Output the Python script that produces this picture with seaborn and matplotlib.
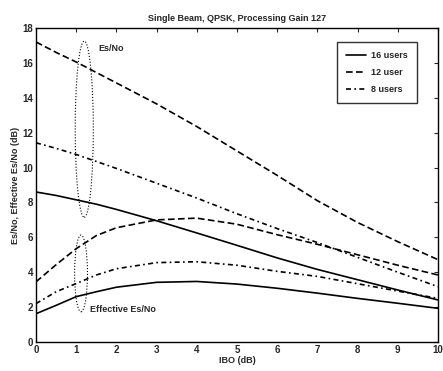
import matplotlib
matplotlib.use("Agg")
import matplotlib.pyplot as plt
import seaborn as sns
from matplotlib.patches import Ellipse

ibo = [0, 0.5, 1, 1.5, 2, 3, 4, 5, 6, 7, 8, 9, 10]
esno_16 = [8.6, 8.4, 8.15, 7.9, 7.6, 6.95, 6.25, 5.54, 4.82, 4.16, 3.57, 2.98, 2.41]
esno_12 = [17.2, 16.6, 16.05, 15.45, 14.85, 13.65, 12.35, 10.95, 9.55, 8.1, 6.85, 5.75, 4.72]
esno_8 = [11.42, 11.1, 10.75, 10.35, 9.95, 9.1, 8.25, 7.35, 6.5, 5.7, 4.85, 4.0, 3.17]
eff_16 = [1.62, 2.1, 2.6, 2.88, 3.14, 3.42, 3.47, 3.32, 3.08, 2.8, 2.5, 2.22, 1.93]
eff_12 = [3.45, 4.43, 5.35, 6.1, 6.55, 7.0, 7.1, 6.75, 6.15, 5.6, 5.0, 4.4, 3.84]
eff_8 = [2.2, 2.88, 3.35, 3.84, 4.2, 4.55, 4.6, 4.4, 4.05, 3.76, 3.34, 2.92, 2.5]
labels = ["16 users", "12 user", "8 users"]
title = "Single Beam, QPSK, Processing Gain 127"

sns.set_style("white")
plt.rcParams['font.family'] = ['Liberation Sans', 'DejaVu Sans']

fig = plt.figure(figsize=(4.43, 3.71), dpi=100)
ax = fig.add_axes([0.0813, 0.0782, 0.9074, 0.8463])

styles = [None, (4, 2), (3, 2, 1, 2)]
series_es = [esno_16, esno_12, esno_8]
series_eff = [eff_16, eff_12, eff_8]
for lab, ys, dash in zip(labels, series_es, styles):
    sns.lineplot(x=ibo, y=ys, ax=ax, color='k', linewidth=1.2, label=lab)
    if dash is not None:
        ax.lines[-1].set_dashes(dash)
for ys, dash in zip(series_eff, styles):
    sns.lineplot(x=ibo, y=ys, ax=ax, color='k', linewidth=1.2)
    if dash is not None:
        ax.lines[-1].set_dashes(dash)

ax.add_patch(Ellipse((1.2, 12.2), 0.45, 10.1, fill=False, ls=':', lw=0.8, ec='k'))
ax.add_patch(Ellipse((1.12, 3.93), 0.32, 4.4, fill=False, ls=':', lw=0.8, ec='k'))
ax.text(1.55, 16.85, "Es/No", fontsize=6.5, fontweight='bold', va='center', ha='left')
ax.text(1.34, 1.85, "Effective Es/No", fontsize=6.5, fontweight='bold', va='center', ha='left')

ax.set_xlim(0, 10)
ax.set_ylim(0, 18)
ax.set_xticks(range(0, 11))
ax.set_yticks(range(0, 19, 2))
ax.tick_params(direction='in', top=True, right=True, length=3, width=0.8,
               labelsize=7, pad=2)
for t in ax.get_xticklabels() + ax.get_yticklabels():
    t.set_fontweight('bold')
for s in ax.spines.values():
    s.set_color('k')
    s.set_linewidth(1.0)
ax.set_xlabel("IBO (dB)", fontsize=6.5, fontweight='bold', labelpad=1)
ax.set_ylabel("Es/No, Effective Es/No (dB)", fontsize=6.5, fontweight='bold', labelpad=2)
ax.set_title(title, fontsize=6.5, fontweight='bold', pad=5)

leg = ax.legend(loc='upper right', bbox_to_anchor=(0.948, 0.955), borderaxespad=0,
                fontsize=6.5, frameon=True, fancybox=False, edgecolor='k',
                handlelength=2.2, borderpad=1.0, labelspacing=0.9, handletextpad=0.6)
leg.get_frame().set_linewidth(1.0)
for t in leg.get_texts():
    t.set_fontweight('bold')

fig.savefig("out.png", dpi=100)
